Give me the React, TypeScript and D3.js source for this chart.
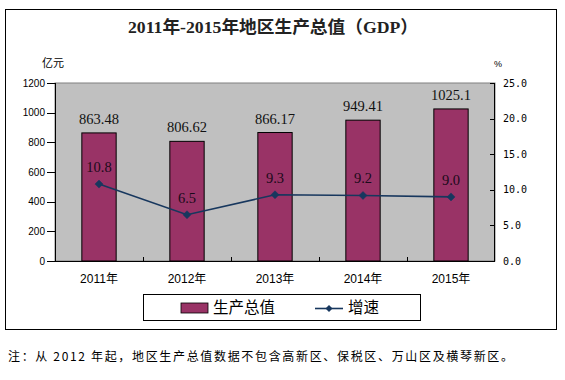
import React from "react";
import * as d3 from "d3";

const years = ["2011年", "2012年", "2013年", "2014年", "2015年"];
const gdp = [863.48, 806.62, 866.17, 949.41, 1025.1];
const gdpLabels = ["863.48", "806.62", "866.17", "949.41", "1025.1"];
const growth = [10.8, 6.5, 9.3, 9.2, 9.0];
const growthLabels = ["10.8", "6.5", "9.3", "9.2", "9.0"];
const leftTicks = [0, 200, 400, 600, 800, 1000, 1200];
const rightTicks = [0, 5, 10, 15, 20, 25];

const W = 565;
const H = 380;
const plot = { left: 55, right: 495, top: 83, bottom: 261 };

const BAR = "#993366";
const LINE = "#17375E";
const SERIF = "'Liberation Serif', 'Times New Roman', 'Noto Sans CJK SC', serif";
const SANS = "'Liberation Sans', Arial, 'Noto Sans CJK SC', sans-serif";
const CJK = "'Noto Sans CJK SC', sans-serif";

export default function App() {
  const x = d3.scaleBand<string>().domain(years).range([plot.left, plot.right]).paddingInner(0).paddingOuter(0);
  const yL = d3.scaleLinear().domain([0, 1200]).range([plot.bottom, plot.top]);
  const yR = d3.scaleLinear().domain([0, 25]).range([plot.bottom, plot.top]);
  const bw = x.bandwidth() * 0.39;
  const cx = (d: string) => (x(d) as number) + x.bandwidth() / 2;

  const line = d3
    .line<number>()
    .x((_, i) => cx(years[i]))
    .y((v) => yR(v));

  const diamond = (px: number, py: number, r: number) =>
    `M${px},${py - r}L${px + r},${py}L${px},${py + r}L${px - r},${py}Z`;

  return (
    <svg
      width={W}
      height={H}
      style={{ position: "absolute", left: 0, top: 0, background: "#fff" }}
    >
      <rect x={0} y={0} width={W} height={H} fill="#fff" />
      <rect x={5.5} y={9.5} width={551} height={320} fill="none" stroke="#000" strokeWidth={1} />

      <text
        x={273}
        y={32.5}
        textAnchor="middle"
        fontFamily={SERIF}
        fontWeight="bold"
        fontSize={17.5}
        textLength={290}
        lengthAdjust="spacingAndGlyphs"
        fill="#222"
      >
        2011年-2015年地区生产总值（GDP）
      </text>

      <text x={42} y={67} fontFamily={CJK} fontSize={11} fill="#000">亿元</text>
      <text x={494} y={67} fontFamily={SANS} fontSize={9} fill="#000">%</text>

      {/* plot background */}
      <rect
        x={plot.left}
        y={plot.top}
        width={plot.right - plot.left}
        height={plot.bottom - plot.top}
        fill="#C0C0C0"
        stroke="#808080"
        strokeWidth={1}
      />

      {/* bars */}
      {gdp.map((v, i) => (
        <rect
          key={"b" + i}
          x={cx(years[i]) - bw / 2}
          y={yL(v)}
          width={bw}
          height={plot.bottom - yL(v)}
          fill={BAR}
          stroke="#000"
          strokeWidth={1}
        />
      ))}

      {/* axes lines */}
      <line x1={plot.left + 0.5} x2={plot.left + 0.5} y1={plot.top} y2={plot.bottom} stroke="#000" />
      <line x1={plot.right - 0.5} x2={plot.right - 0.5} y1={plot.top} y2={plot.bottom} stroke="#000" />
      <line x1={plot.left} x2={plot.right} y1={plot.bottom + 0.5} y2={plot.bottom + 0.5} stroke="#000" />

      {leftTicks.map((t) => (
        <g key={"lt" + t}>
          <line x1={plot.left - 8} x2={plot.left} y1={Math.round(yL(t)) + 0.5} y2={Math.round(yL(t)) + 0.5} stroke="#000" />
          <text
            x={45}
            y={yL(t)}
            dy="0.35em"
            textAnchor="end"
            fontFamily={SANS}
            fontSize={10}
            fill="#000"
          >
            {t}
          </text>
        </g>
      ))}

      {rightTicks.map((t) => (
        <g key={"rt" + t}>
          <line x1={plot.right - 5} x2={plot.right} y1={Math.round(yR(t)) + 0.5} y2={Math.round(yR(t)) + 0.5} stroke="#000" />
          <text
            x={503}
            y={yR(t)}
            dy="0.35em"
            fontFamily="'DejaVu Sans Mono', monospace"
            fontSize={10}
            fill="#000"
          >
            {t.toFixed(1)}
          </text>
        </g>
      ))}

      {years.slice(1).map((d) => (
        <line
          key={"xt" + d}
          x1={Math.round(x(d) as number) + 0.5}
          x2={Math.round(x(d) as number) + 0.5}
          y1={plot.bottom - 4}
          y2={plot.bottom}
          stroke="#000"
        />
      ))}

      {years.map((d) => (
        <text
          key={"xl" + d}
          x={cx(d)}
          y={283}
          textAnchor="middle"
          fontFamily={SANS}
          fontSize={12}
          fill="#000"
        >
          {d}
        </text>
      ))}

      {/* bar labels */}
      {gdp.map((v, i) => (
        <text
          key={"bl" + i}
          x={cx(years[i])}
          y={yL(v) - 9}
          textAnchor="middle"
          fontFamily={SERIF}
          fontSize={14.5}
          fill="#111"
        >
          {gdpLabels[i]}
        </text>
      ))}

      {/* growth line */}
      <path d={line(growth) || ""} fill="none" stroke={LINE} strokeWidth={1.6} />
      {growth.map((v, i) => (
        <path key={"m" + i} d={diamond(cx(years[i]), yR(v), 4)} fill={LINE} stroke={LINE} strokeWidth={0.5} />
      ))}
      {growth.map((v, i) => (
        <text
          key={"gl" + i}
          x={cx(years[i])}
          y={yR(v) - 12}
          textAnchor="middle"
          fontFamily={SERIF}
          fontSize={14.5}
          fill="#1a0a1a"
        >
          {growthLabels[i]}
        </text>
      ))}

      {/* legend */}
      <rect x={143.5} y={294.5} width={277} height={26} fill="#fff" stroke="#000" strokeWidth={1} />
      <rect x={181} y={303} width={27} height={10} fill={BAR} stroke="#000" strokeWidth={0.8} />
      <text x={213} y={313} fontFamily={CJK} fontSize={15.5} fill="#000">生产总值</text>
      <line x1={315} x2={343} y1={308.5} y2={308.5} stroke={LINE} strokeWidth={1.6} />
      <path d={diamond(329, 308.5, 3.5)} fill={LINE} />
      <text x={348} y={313} fontFamily={CJK} fontSize={15.5} fill="#000">增速</text>

      <text
        x={8}
        y={361}
        fontFamily={CJK}
        fontSize={12}
        textLength={505}
        lengthAdjust="spacing"
        fill="#000"
      >
        注：从 2012 年起，地区生产总值数据不包含高新区、保税区、万山区及横琴新区。
      </text>
    </svg>
  );
}
